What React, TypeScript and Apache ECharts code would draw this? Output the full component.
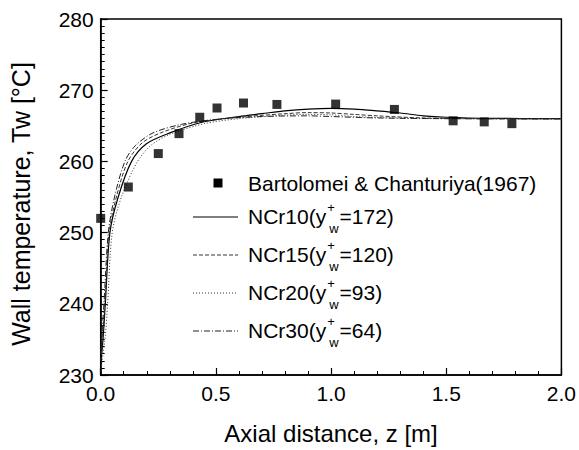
import React, { useEffect, useRef } from "react";
import * as echarts from "echarts";

// Experimental data: Bartolomei & Chanturiya (1967)
const expZ = [0.0, 0.12, 0.25, 0.34, 0.43, 0.505, 0.62, 0.765, 1.02, 1.275, 1.53, 1.665, 1.785];
const expT = [252.0, 256.4, 261.1, 263.9, 266.2, 267.5, 268.2, 268.0, 268.05, 267.3, 265.7, 265.55, 265.3];

// NCr10 (solid)
const ncr10Z = [0.0, 0.01, 0.02, 0.04, 0.076, 0.134, 0.2, 0.3, 0.44, 0.6, 0.7, 0.8, 0.9, 1.0, 1.1, 1.2, 1.3, 1.4, 1.5, 1.7, 2.0];
const ncr10T = [231.5, 235.0, 240.0, 250.0, 255.0, 260.0, 262.5, 264.0, 265.5, 266.3, 266.7, 267.1, 267.35, 267.45, 267.35, 267.1, 266.8, 266.4, 266.2, 266.05, 266.0];

// NCr15 (dashed)
const ncr15Z = [0.0, 0.008, 0.018, 0.037, 0.068, 0.118, 0.18, 0.26, 0.4, 0.6, 0.8, 0.9, 1.0, 1.1, 1.2, 1.4, 1.7, 2.0];
const ncr15T = [232.0, 235.3, 240.0, 250.0, 255.0, 260.0, 262.6, 264.0, 265.4, 266.2, 266.7, 266.85, 266.8, 266.6, 266.4, 266.1, 266.0, 266.0];

// NCr20 (dotted)
const ncr20Z = [0.0, 0.02, 0.03, 0.05, 0.09, 0.16, 0.22, 0.3, 0.45, 0.6, 0.8, 0.9, 1.0, 1.1, 1.3, 1.6, 2.0];
const ncr20T = [230.5, 235.5, 240.0, 250.0, 255.0, 260.0, 262.3, 263.8, 265.3, 266.0, 266.5, 266.6, 266.55, 266.3, 266.1, 266.0, 266.0];

// NCr30 (dash-dot)
const ncr30Z = [0.0, 0.005, 0.014, 0.033, 0.06, 0.105, 0.15, 0.227, 0.35, 0.5, 0.7, 0.9, 1.0, 1.2, 1.5, 2.0];
const ncr30T = [233.0, 235.5, 240.0, 250.0, 255.0, 260.0, 262.2, 264.0, 265.2, 265.9, 266.3, 266.4, 266.3, 266.1, 266.0, 265.95];

const xTicks = [0.0, 0.5, 1.0, 1.5, 2.0];
const yTicks = [230, 240, 250, 260, 270, 280];

const legendExp = "Bartolomei & Chanturiya(1967)";
const legendNames = ["NCr10", "NCr15", "NCr20", "NCr30"];
const legendYplus = ["172", "120", "93", "64"];

const FONT = "'Liberation Sans', Arial, Helvetica, sans-serif";

function pairs(z: number[], t: number[]) {
  return z.map((v, i) => [v, t[i]]);
}

function measure(text: string, size: number) {
  const c = document.createElement("canvas").getContext("2d");
  if (!c) return text.length * size * 0.55;
  c.font = `${size}px ${FONT}`;
  return c.measureText(text).width;
}

const lineStyles: any[] = [
  { type: "solid", width: 1.2, color: "#000" },
  { type: [4, 2], width: 1, color: "#333" },
  { type: [1, 2], width: 1, color: "#333" },
  { type: [6, 2, 1, 2], width: 1, color: "#222" },
];

export default function App() {
  const ref = useRef<HTMLDivElement>(null);
  useEffect(() => {
    if (!ref.current) return;
    const chart = echarts.init(ref.current, null, { renderer: "svg" });

    const legendX = 248;
    const rowY = [183, 216, 254, 292, 330];
    const fs = 21;
    const small = 13;
    const graphics: any[] = [];
    graphics.push({
      type: "rect",
      shape: { x: 213.5, y: rowY[0] - 4.5, width: 9, height: 9 },
      style: { fill: "#000" },
    });
    graphics.push({
      type: "text",
      x: legendX,
      y: rowY[0],
      style: { text: legendExp, font: `${fs}px ${FONT}`, fill: "#000", verticalAlign: "middle", align: "left" },
    });
    legendNames.forEach((name, i) => {
      const y = rowY[i + 1];
      const ls = lineStyles[i];
      graphics.push({
        type: "line",
        shape: { x1: 193, y1: y + 1, x2: 238, y2: y + 1 },
        style: { stroke: ls.color, lineWidth: ls.width, lineDash: ls.type === "solid" ? null : ls.type },
      });
      const head = `${name}(y`;
      const wHead = measure(head, fs);
      graphics.push({
        type: "text",
        x: legendX,
        y,
        style: { text: head, font: `${fs}px ${FONT}`, fill: "#000", verticalAlign: "middle", align: "left" },
      });
      const supX = legendX + wHead + 1;
      graphics.push({
        type: "text",
        x: supX,
        y: y - 9,
        style: { text: "+", font: `${small}px ${FONT}`, fill: "#000", verticalAlign: "middle", align: "left" },
      });
      const subX = legendX + wHead + 3;
      graphics.push({
        type: "text",
        x: subX,
        y: y + 12,
        style: { text: "w", font: `${small}px ${FONT}`, fill: "#000", verticalAlign: "middle", align: "left" },
      });
      const tailX = Math.max(supX + measure("+", small), subX + measure("w", small)) + 1;
      graphics.push({
        type: "text",
        x: tailX,
        y,
        style: { text: `=${legendYplus[i]})`, font: `${fs}px ${FONT}`, fill: "#000", verticalAlign: "middle", align: "left" },
      });
    });

    const curveSeries = [
      pairs(ncr10Z, ncr10T),
      pairs(ncr15Z, ncr15T),
      pairs(ncr20Z, ncr20T),
      pairs(ncr30Z, ncr30T),
    ].map((data, i) => ({
      type: "line",
      name: legendNames[i],
      data,
      smooth: 0.3,
      showSymbol: false,
      lineStyle: lineStyles[i],
      z: 2,
      clip: true,
    }));

    const option: any = {
      animation: false,
      backgroundColor: "#fff",
      textStyle: { fontFamily: FONT },
      grid: {
        left: 100.7,
        right: 16,
        top: 19,
        bottom: 71,
        show: true,
        borderColor: "#000",
        borderWidth: 1.5,
        backgroundColor: "transparent",
      },
      xAxis: {
        type: "value",
        min: xTicks[0],
        max: xTicks[xTicks.length - 1],
        interval: 0.5,
        name: "Axial distance, z [m]",
        nameLocation: "middle",
        nameGap: 46,
        nameTextStyle: { fontSize: 24, color: "#000", fontFamily: FONT, verticalAlign: "top" },
        axisLine: { show: true, onZero: false, lineStyle: { color: "#000", width: 1.5 } },
        axisTick: { show: true, inside: true, length: 7, lineStyle: { color: "#000", width: 1.2 } },
        minorTick: { show: true, splitNumber: 5, length: 4, lineStyle: { color: "#000", width: 1 } },
        splitLine: { show: false },
        axisLabel: {
          fontSize: 21,
          color: "#000",
          fontFamily: FONT,
          margin: 8,
          formatter: (v: number) => v.toFixed(1),
        },
      },
      yAxis: {
        type: "value",
        min: yTicks[0],
        max: yTicks[yTicks.length - 1],
        interval: 10,
        name: "Wall temperature, Tw [°C]",
        nameLocation: "middle",
        nameGap: 67,
        nameTextStyle: { fontSize: 25, color: "#000", fontFamily: FONT, padding: [0, 14, 0, 0] },
        axisLine: { show: true, onZero: false, lineStyle: { color: "#000", width: 1.5 } },
        axisTick: { show: true, inside: true, length: 7, lineStyle: { color: "#000", width: 1.2 } },
        minorTick: { show: true, splitNumber: 10, length: 4, lineStyle: { color: "#000", width: 1 } },
        splitLine: { show: false },
        axisLabel: { fontSize: 21, color: "#000", fontFamily: FONT, margin: 7 },
      },
      series: [
        {
          type: "scatter",
          name: legendExp,
          data: pairs(expZ, expT),
          symbol: "rect",
          symbolSize: 9,
          itemStyle: { color: "#000" },
          z: 3,
          clip: false,
        },
        ...curveSeries,
      ],
      graphic: graphics,
    };
    chart.setOption(option);
    return () => chart.dispose();
  }, []);
  return <div ref={ref} style={{ width: 579, height: 450, position: "absolute", left: 0, top: 0 }} />;
}
